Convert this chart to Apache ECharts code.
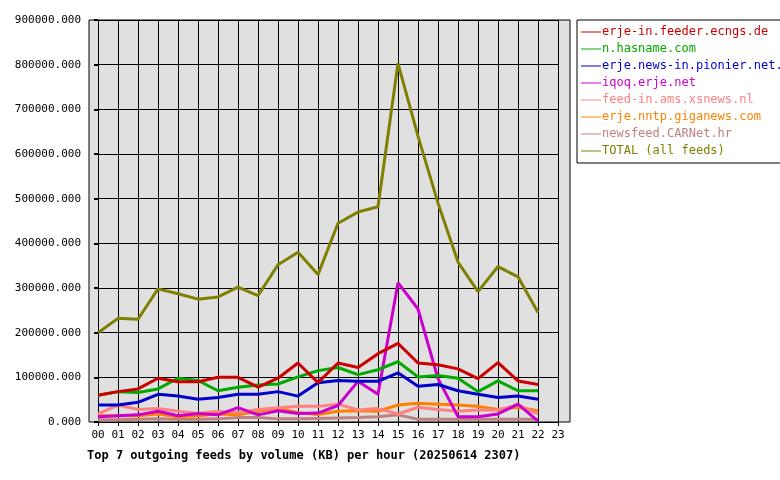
<!DOCTYPE html>
<html>
<head>
<meta charset="utf-8">
<script src="https://cdn.jsdelivr.net/npm/echarts@6/dist/echarts.min.js"></script>
<style>body{margin:0;background:#fff}#c{width:780px;height:480px}</style>
</head>
<body>
<div id="c"></div>
<script>
// hours 00..23, values in KB
const hours = [0,1,2,3,4,5,6,7,8,9,10,11,12,13,14,15,16,17,18,19,20,21,22];
const feederEcngs = [60000,68000,74000,98000,90000,90000,100000,100000,78000,98000,132000,88000,132000,122000,153000,176000,132000,128000,119000,97000,133000,92000,84000];
const hasname = [60000,68000,66000,74000,98000,93000,70000,78000,83000,85000,101000,115000,122000,106000,117000,135000,101000,104000,98000,68000,92000,70000,70000];
const pionier = [38000,38000,44000,62000,58000,51000,55000,62000,62000,68000,58000,88000,93000,91000,91000,110000,80000,84000,70000,62000,55000,58000,51000];
const iqoq = [12000,14000,16000,24000,14000,19000,16000,32000,16000,25000,19000,20000,37000,91000,62000,312000,253000,97000,12000,12000,18000,40000,2000];
const xsnews = [18000,38000,28000,30000,24000,19000,24000,21000,28000,32000,35000,35000,40000,27000,30000,18000,33000,28000,24000,27000,27000,38000,18000];
const giganews = [14000,14000,14000,18000,12000,14000,18000,16000,24000,31000,21000,17000,24000,25000,24000,38000,42000,40000,38000,35000,28000,33000,25000];
const carnet = [5000,5000,6000,7000,6000,6000,7000,10000,10000,7000,7000,8000,9000,10000,12000,16000,6000,6000,6000,6000,6000,6000,6000];
const total = [200000,232000,230000,298000,287000,275000,280000,302000,283000,352000,380000,330000,445000,470000,482000,803000,640000,490000,358000,292000,348000,325000,245000];

const feeds = [
  ['erje-in.feeder.ecngs.de', feederEcngs, '#cc0000'],
  ['n.hasname.com', hasname, '#00aa00'],
  ['erje.news-in.pionier.net.pl', pionier, '#0000cc'],
  ['iqoq.erje.net', iqoq, '#cc00cc'],
  ['feed-in.ams.xsnews.nl', xsnews, '#ff8080'],
  ['erje.nntp.giganews.com', giganews, '#ff8000'],
  ['newsfeed.CARNet.hr', carnet, '#c08080'],
  ['TOTAL (all feeds)', total, '#808000']
];

const font = 'DejaVu Sans Mono';
const chart = echarts.init(document.getElementById('c'));
chart.setOption({
  animation: false,
  textStyle: { fontFamily: font },
  graphic: [{
    type: 'rect', z: -10, silent: true,
    shape: { x: 89, y: 20, width: 481, height: 402 },
    style: { fill: '#e0e0e0', stroke: '#000', lineWidth: 1 }
  }],
  title: {
    text: 'Top 7 outgoing feeds by volume (KB) per hour (20250614 2307)',
    left: 82, top: 445,
    textStyle: { fontFamily: font, fontSize: 12, fontWeight: 'bold', color: '#000' }
  },
  legend: {
    orient: 'vertical', left: 577, top: 20,
    padding: [6, 8, 6, 4], itemGap: 5,
    itemWidth: 20, itemHeight: 8,
    borderColor: '#000', borderWidth: 1,
    icon: 'path://M0,4L20,4L20,5L0,5Z',
    textStyle: { fontFamily: font, fontSize: 12, padding: [0, 0, 0, -4], rich: {} },
    formatter: n => n,
    data: feeds.map(f => ({ name: f[0], textStyle: { color: f[2] } }))
  },
  grid: { left: 98, right: 222, top: 20, bottom: 58 },
  xAxis: {
    type: 'value', min: 0, max: 23, interval: 1,
    axisLine: { show: false },
    axisTick: { show: true, length: 4, lineStyle: { color: '#000' } },
    axisLabel: { color: '#000', fontSize: 11, formatter: v => String(v).padStart(2, '0') },
    splitLine: { show: true, lineStyle: { color: '#000', width: 1 } }
  },
  yAxis: {
    type: 'value', min: 0, max: 900000, interval: 100000, offset: 9,
    axisLine: { show: false },
    axisTick: { show: true, length: 4, lineStyle: { color: '#000', width: 2 } },
    axisLabel: { color: '#000', fontSize: 11, formatter: v => v + '.000' },
    splitLine: { show: true, lineStyle: { color: '#000', width: 1 } }
  },
  series: feeds.map(f => ({
    name: f[0], type: 'line', symbol: 'none',
    data: f[1].map((v, i) => [hours[i], v]),
    lineStyle: { color: f[2], width: 3 },
    itemStyle: { color: f[2] }
  })).reverse()
});
</script>
</body>
</html>
